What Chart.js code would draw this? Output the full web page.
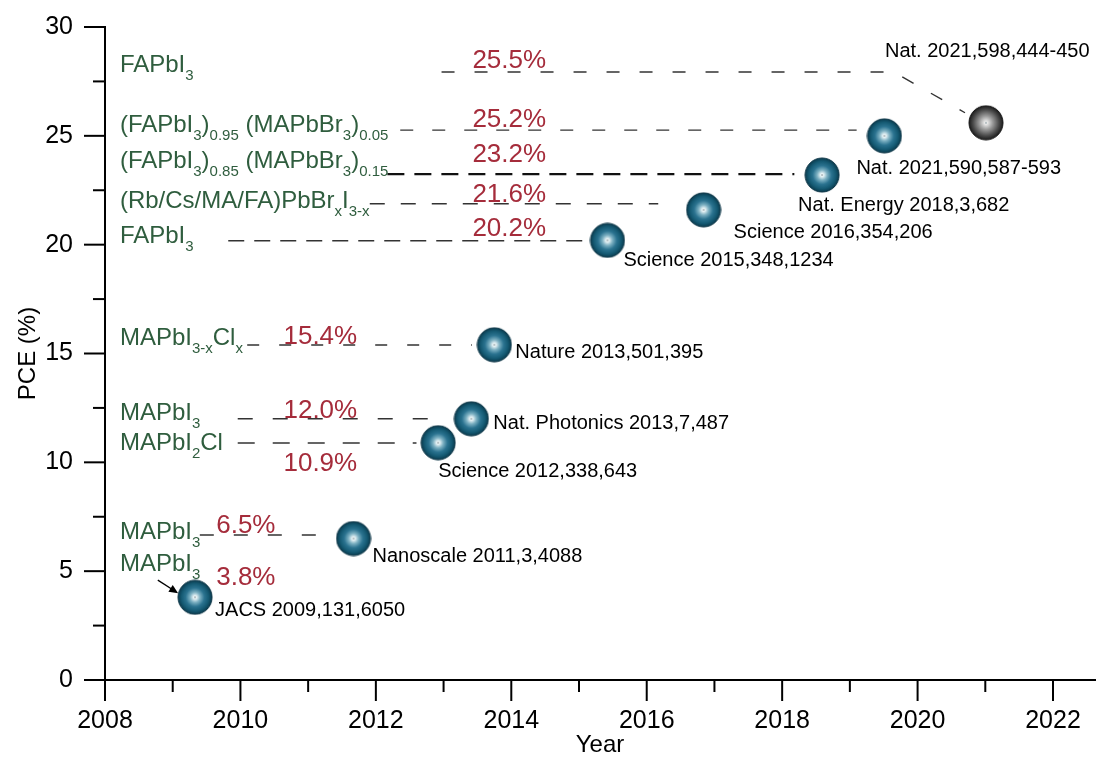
<!DOCTYPE html>
<html>
<head>
<meta charset="utf-8">
<script src="https://cdn.jsdelivr.net/npm/chart.js@4.4.1/dist/chart.umd.min.js"></script>
<style>
  body { margin: 0; background: #fff; }
  canvas { display: block; }
</style>
</head>
<body>
<canvas id="pce" width="1097" height="757"></canvas>
<script>
// record efficiencies
var years = [2009.33, 2011.67, 2012.92, 2013.41, 2013.75, 2015.42, 2016.84, 2018.59, 2019.51, 2021.01];
var pce = [3.8, 6.5, 10.9, 12.0, 15.4, 20.2, 21.6, 23.2, 25.0, 25.6];
var pceText = ['3.8%', '6.5%', '10.9%', '12.0%', '15.4%', '20.2%', '21.6%', '23.2%', '25.2%', '25.5%'];
var materials = [
  'MAPbI_{3}', 'MAPbI_{3}', 'MAPbI_{2}Cl', 'MAPbI_{3}', 'MAPbI_{3-x}Cl_{x}', 'FAPbI_{3}',
  '(Rb/Cs/MA/FA)PbBr_{x}I_{3-x}', '(FAPbI_{3})_{0.85} (MAPbBr_{3})_{0.15}',
  '(FAPbI_{3})_{0.95} (MAPbBr_{3})_{0.05}', 'FAPbI_{3}'
];
var refs = [
  'JACS 2009,131,6050', 'Nanoscale 2011,3,4088', 'Science 2012,338,643', 'Nat. Photonics 2013,7,487',
  'Nature 2013,501,395', 'Science 2015,348,1234', 'Science 2016,354,206', 'Nat. Energy 2018,3,682',
  'Nat. 2021,590,587-593', 'Nat. 2021,598,444-450'
];
// dashed leader lines (year, PCE)
var leaderX = [
  [2009.4, 2011.32], [2009.96, 2012.6], [2009.96, 2012.99], [2010.1, 2013.42], [2009.82, 2015.1],
  [2011.91, 2016.17], [2012.17, 2018.18], [2012.36, 2019.1], [2012.97, 2019.65, 2020.7]
];
var leaderY = [
  [6.66, 6.66], [10.89, 10.89], [12.0, 12.0], [15.39, 15.39], [20.18, 20.18],
  [21.88, 21.88], [23.24, 23.24], [25.26, 25.26], [27.93, 27.93, 26.06]
];

// label placement (data units) and styles
var matPos = [5.0, 6.48, 10.57, 11.94, 15.39, 20.07, 21.68, 23.52, 25.17, 27.93];
var pctPos = [[2010.08, 4.78], [2010.08, 7.17], [2011.18, 10.02], [2011.18, 12.49], [2011.18, 15.89],
  [2013.97, 20.81], [2013.97, 22.37], [2013.97, 24.25], [2013.97, 25.86], [2013.97, 28.53]];
var refOff = [[20, 12], [19, 16], [0, 27], [22, 3], [21, 6], [16, 19], [30, 21], [-24, 29], [-28, 31], [-101, -73]];
var dashes = [[14, 20], [17, 18], [15, 20], [12, 20], [16, 10], [15, 16], [17, 10], [13, 19], [13, 20]];
var FONT = '"Liberation Sans", Arial, sans-serif';
var GREEN = '#2f5d3e', RED = '#a52c3b';

function makeBall(r, stops, edge) {
  var c = document.createElement('canvas');
  var s = 2 * r + 2;
  c.width = s; c.height = s;
  var g = c.getContext('2d');
  var m = s / 2;
  var grd = g.createRadialGradient(m, m, 0, m, m, r);
  stops.forEach(function(st) { grd.addColorStop(st[0], st[1]); });
  g.fillStyle = grd;
  g.beginPath(); g.arc(m, m, r, 0, Math.PI * 2); g.fill();
  g.lineWidth = 1; g.strokeStyle = edge; g.stroke();
  g.fillStyle = '#8a9aa0';
  g.fillRect(m - 0.75, m - 0.75, 1.5, 1.5);
  return c;
}
var tealBall = makeBall(17, [[0, '#ffffff'], [0.1, '#e6f2f5'], [0.3, '#7cb0c2'], [0.55, '#2b7390'], [0.8, '#155a73'], [1, '#0a3b4e']], '#0a3344');
var greyBall = makeBall(17, [[0, '#ffffff'], [0.12, '#e0e0e0'], [0.4, '#9a9a9a'], [0.75, '#4d4d4d'], [1, '#1c1c1c']], '#151515');

function parseRich(s) {
  var out = [], re = /_\{([^}]*)\}/g, last = 0, m;
  while ((m = re.exec(s))) {
    if (m.index > last) out.push({ t: s.slice(last, m.index), sub: false });
    out.push({ t: m[1], sub: true });
    last = re.lastIndex;
  }
  if (last < s.length) out.push({ t: s.slice(last), sub: false });
  return out;
}
function drawRich(ctx, s, x, y) {
  parseRich(s).forEach(function(p) {
    ctx.font = p.sub ? '15px ' + FONT : '24px ' + FONT;
    ctx.fillText(p.t, x, p.sub ? y + 8 : y);
    x += ctx.measureText(p.t).width;
  });
}

var datasets = [{
  type: 'scatter',
  data: years.map(function(y, i) { return { x: y, y: pce[i] }; }),
  pointStyle: years.map(function(y, i) { return i == years.length - 1 ? greyBall : tealBall; }),
  pointRadius: 17,
  order: 0
}];
leaderX.forEach(function(xs, i) {
  datasets.push({
    type: 'line',
    data: xs.map(function(x, j) { return { x: x, y: leaderY[i][j] }; }),
    borderColor: i == 6 ? '#111' : '#333',
    borderWidth: i == 6 ? 2.2 : 1.4,
    borderDash: dashes[i],
    pointRadius: 0,
    fill: false,
    order: 1
  });
});

// axis ticks (long/short) and text annotations
var decor = {
  id: 'decor',
  afterDraw: function(chart) {
    var ctx = chart.ctx, xs = chart.scales.x, ys = chart.scales.y;
    var a = chart.chartArea;
    ctx.save();
    ctx.strokeStyle = '#000'; ctx.lineWidth = 2;
    for (var yr = 2008; yr <= 2022; yr++) {
      var px = xs.getPixelForValue(yr), len = yr % 2 == 0 ? 21 : 12;
      ctx.beginPath(); ctx.moveTo(px, a.bottom); ctx.lineTo(px, a.bottom + len); ctx.stroke();
    }
    for (var v = 0; v <= 30; v += 2.5) {
      var py = ys.getPixelForValue(v), l2 = v % 5 == 0 ? 21 : 12;
      ctx.beginPath(); ctx.moveTo(a.left, py); ctx.lineTo(a.left - l2, py); ctx.stroke();
    }
    // arrow to first record
    var x0 = xs.getPixelForValue(2008.78), y0 = ys.getPixelForValue(4.59);
    var x1 = xs.getPixelForValue(2009.08), y1 = ys.getPixelForValue(3.99);
    var ang = Math.atan2(y1 - y0, x1 - x0);
    ctx.lineWidth = 1.3;
    ctx.beginPath(); ctx.moveTo(x0, y0); ctx.lineTo(x1 - 4 * Math.cos(ang), y1 - 4 * Math.sin(ang)); ctx.stroke();
    ctx.fillStyle = '#000';
    ctx.beginPath();
    ctx.moveTo(x1, y1);
    ctx.lineTo(x1 - 9 * Math.cos(ang) + 4 * Math.sin(ang), y1 - 9 * Math.sin(ang) - 4 * Math.cos(ang));
    ctx.lineTo(x1 - 9 * Math.cos(ang) - 4 * Math.sin(ang), y1 - 9 * Math.sin(ang) + 4 * Math.cos(ang));
    ctx.closePath(); ctx.fill();

    ctx.textBaseline = 'alphabetic';
    // material names
    ctx.fillStyle = GREEN; ctx.textAlign = 'left';
    materials.forEach(function(m, i) {
      drawRich(ctx, m, xs.getPixelForValue(2008.22), ys.getPixelForValue(matPos[i]));
    });
    // efficiencies
    ctx.fillStyle = RED; ctx.textAlign = 'center'; ctx.font = '26px ' + FONT;
    pceText.forEach(function(t, i) {
      ctx.fillText(t, xs.getPixelForValue(pctPos[i][0]), ys.getPixelForValue(pctPos[i][1]) + 9.4);
    });
    // references
    ctx.fillStyle = '#000'; ctx.textAlign = 'left'; ctx.font = '20px ' + FONT;
    refs.forEach(function(t, i) {
      var px = xs.getPixelForValue(years[i]) + refOff[i][0];
      var py = ys.getPixelForValue(pce[i]) + refOff[i][1] + 7;
      ctx.fillText(t, px, py);
    });
    ctx.restore();
  }
};

new Chart(document.getElementById('pce'), {
  data: { datasets: datasets },
  options: {
    responsive: false,
    animation: false,
    devicePixelRatio: 1,
    layout: { autoPadding: false, padding: { top: 27, right: 2, left: 0, bottom: 0 } },
    plugins: { legend: { display: false }, tooltip: { enabled: false } },
    scales: {
      x: {
        type: 'linear', min: 2008, max: 2022.62,
        grid: { display: false },
        border: { display: true, color: '#000', width: 2 },
        ticks: {
          stepSize: 1, autoSkip: false, maxRotation: 0, padding: 18, color: '#000', includeBounds: false,
          font: { family: FONT, size: 25 },
          callback: function(v) { return Number.isInteger(v) && v % 2 == 0 ? String(v) : ''; }
        },
        title: { display: true, text: 'Year', color: '#000', font: { family: FONT, size: 24, lineHeight: 1 }, padding: { top: 1, bottom: 0 } },
        afterFit: function(s) { s.height = 77; s.paddingLeft = 0; s.paddingRight = 0; }
      },
      y: {
        type: 'linear', min: 0, max: 30,
        grid: { display: false },
        border: { display: true, color: '#000', width: 2 },
        ticks: {
          stepSize: 5, padding: 24, color: '#000',
          font: { family: FONT, size: 25 },
          callback: function(v) { return String(v); }
        },
        title: { display: true, text: 'PCE (%)', color: '#000', font: { family: FONT, size: 24, lineHeight: 1 }, padding: { top: 16, bottom: 0 } },
        afterFit: function(s) { s.width = 105; s.paddingTop = 0; s.paddingBottom = 0; }
      }
    }
  },
  plugins: [decor]
});
</script>
</body>
</html>
